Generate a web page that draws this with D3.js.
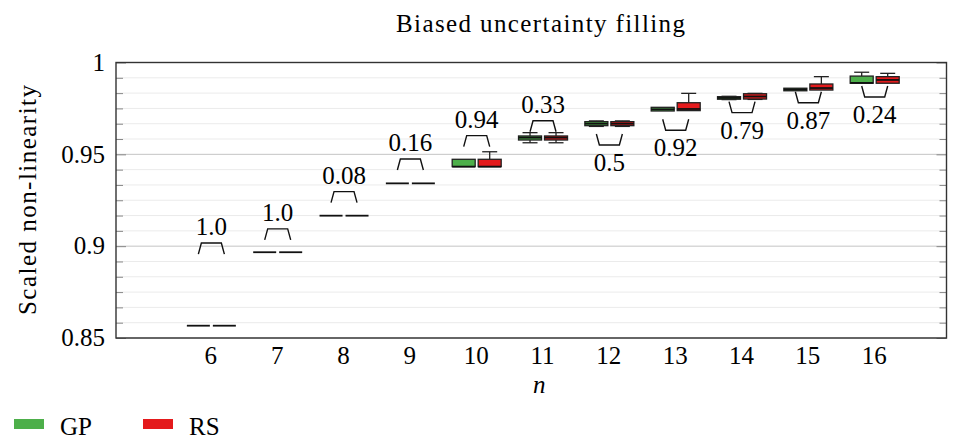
<!DOCTYPE html>
<html>
<head>
<meta charset="utf-8">
<script src="https://cdn.jsdelivr.net/npm/d3@7"></script>
<style>
  body { margin: 0; background: #fff; }
</style>
</head>
<body>
<div id="chart"></div>
<script>
// n values on the x axis
const ns = [6, 7, 8, 9, 10, 11, 12, 13, 14, 15, 16];

// box stats per n: [whisker low, q1, median, q3, whisker high]
const gpStats = [
  [0.8567, 0.8567, 0.8567, 0.8567, 0.8567],
  [0.8967, 0.8967, 0.8967, 0.8967, 0.8967],
  [0.9166, 0.9166, 0.9166, 0.9166, 0.9166],
  [0.9342, 0.9342, 0.9342, 0.9342, 0.9342],
  [0.9433, 0.9433, 0.9433, 0.9473, 0.9473],
  [0.9563, 0.9578, 0.9591, 0.9600, 0.9618],
  [0.9652, 0.9656, 0.9667, 0.9678, 0.9682],
  [0.9736, 0.9736, 0.9745, 0.9756, 0.9756],
  [0.9798, 0.9800, 0.9807, 0.9814, 0.9816],
  [0.9846, 0.9846, 0.9853, 0.9860, 0.9860],
  [0.9887, 0.9887, 0.9889, 0.9926, 0.9947],
];
const rsStats = [
  [0.8567, 0.8567, 0.8567, 0.8567, 0.8567],
  [0.8967, 0.8967, 0.8967, 0.8967, 0.8967],
  [0.9166, 0.9166, 0.9166, 0.9166, 0.9166],
  [0.9342, 0.9342, 0.9342, 0.9342, 0.9342],
  [0.9433, 0.9433, 0.9433, 0.9473, 0.9514],
  [0.9563, 0.9578, 0.9591, 0.9600, 0.9618],
  [0.9652, 0.9656, 0.9667, 0.9678, 0.9682],
  [0.9738, 0.9738, 0.9747, 0.9781, 0.9832],
  [0.9799, 0.9801, 0.9815, 0.9830, 0.9832],
  [0.9850, 0.9850, 0.9861, 0.9883, 0.9923],
  [0.9887, 0.9887, 0.9905, 0.9923, 0.9941],
];

// p-value annotations: label, value where the bracket legs end, side
const pLabels = ['1.0', '1.0', '0.08', '0.16', '0.94', '0.33', '0.5', '0.92', '0.79', '0.87', '0.24'];
const bracketAt = [0.8957, 0.9034, 0.9237, 0.9415, 0.9542, 0.9623, 0.9611, 0.9691, 0.9787, 0.9841, 0.9872];
const bracketSide = ['above', 'above', 'above', 'above', 'above', 'above', 'below', 'below', 'below', 'below', 'below'];

const yMajor = [0.85, 0.9, 0.95, 1];
const series = [
  { name: 'GP', color: '#4daf4a', stats: gpStats },
  { name: 'RS', color: '#e41a1c', stats: rsStats },
];

const width = 962;
const height = 441;
const margin = { top: 62.5, right: 15.5, bottom: 103, left: 116 };
const serif = "'Liberation Serif', 'Times New Roman', Times, 'DejaVu Serif', serif";

const svg = d3.select('#chart').append('svg')
  .attr('width', width)
  .attr('height', height)
  .attr('font-family', serif)
  .style('font-family', serif);

const x = d3.scaleLinear()
  .domain([4.57, 17.09])
  .range([margin.left, width - margin.right]);

const y = d3.scaleLinear()
  .domain([0.85, 1])
  .range([height - margin.bottom, margin.top]);

// grid: 5 minor lines between majors
const minor = [];
for (let i = 0; i < yMajor.length - 1; i += 1) {
  for (let k = 1; k <= 5; k += 1) minor.push(yMajor[i] + k * 0.05 / 6);
}

svg.append('g')
  .selectAll('line')
  .data(minor)
  .join('line')
  .attr('x1', x.range()[0])
  .attr('x2', x.range()[1])
  .attr('y1', d => y(d))
  .attr('y2', d => y(d))
  .attr('stroke', '#ebebeb')
  .attr('stroke-width', 1);

svg.append('g')
  .selectAll('line')
  .data(yMajor)
  .join('line')
  .attr('x1', x.range()[0])
  .attr('x2', x.range()[1])
  .attr('y1', d => y(d))
  .attr('y2', d => y(d))
  .attr('stroke', '#c4c4c4')
  .attr('stroke-width', 1);

// y axis, ticks inside on both sides
[d3.axisRight(y).tickValues(yMajor).tickSize(10).tickFormat(''),
  d3.axisRight(y).tickValues(minor).tickSize(7).tickFormat('')].forEach((ax) => {
  svg.append('g')
    .attr('transform', `translate(${x.range()[0]},0)`)
    .call(ax)
    .call(g => g.select('.domain').remove())
    .call(g => g.selectAll('line').attr('stroke', '#888'));
});
[d3.axisLeft(y).tickValues(yMajor).tickSize(10).tickFormat(''),
  d3.axisLeft(y).tickValues(minor).tickSize(7).tickFormat('')].forEach((ax) => {
  svg.append('g')
    .attr('transform', `translate(${x.range()[1]},0)`)
    .call(ax)
    .call(g => g.select('.domain').remove())
    .call(g => g.selectAll('line').attr('stroke', '#888'));
});

// y tick labels
svg.append('g')
  .selectAll('text')
  .data(yMajor)
  .join('text')
  .attr('x', x.range()[0] - 11)
  .attr('y', d => y(d))
  .attr('dy', '0.33em')
  .attr('text-anchor', 'end')
  .attr('font-size', 25)
  .text(d => d3.format('')(d));

// x tick labels
svg.append('g')
  .selectAll('text')
  .data(ns)
  .join('text')
  .attr('x', d => x(d))
  .attr('y', 364)
  .attr('text-anchor', 'middle')
  .attr('font-size', 25)
  .text(d => d);

// frame
svg.append('rect')
  .attr('x', x.range()[0])
  .attr('y', y.range()[1])
  .attr('width', x.range()[1] - x.range()[0])
  .attr('height', y.range()[0] - y.range()[1])
  .attr('fill', 'none')
  .attr('stroke', '#333')
  .attr('stroke-width', 1.4);

// ****************** boxes ******************
const boxW = 23;
const offsets = [-24, 2]; // left edge of each box relative to the tick
const capW = 15;

series.forEach((s, si) => {
  const g = svg.append('g').attr('class', `box-${s.name}`);
  s.stats.forEach((st, i) => {
    const [lo, q1, med, q3, hi] = st;
    const x0 = x(ns[i]) + offsets[si];
    const cx = x0 + boxW / 2;
    // whiskers
    if (hi > q3) {
      g.append('line').attr('x1', cx).attr('x2', cx).attr('y1', y(q3)).attr('y2', y(hi))
        .attr('stroke', '#222').attr('stroke-width', 1.3);
      g.append('line').attr('x1', cx - capW / 2).attr('x2', cx + capW / 2).attr('y1', y(hi)).attr('y2', y(hi))
        .attr('stroke', '#222').attr('stroke-width', 1.3);
    }
    if (lo < q1) {
      g.append('line').attr('x1', cx).attr('x2', cx).attr('y1', y(q1)).attr('y2', y(lo))
        .attr('stroke', '#222').attr('stroke-width', 1.3);
      g.append('line').attr('x1', cx - capW / 2).attr('x2', cx + capW / 2).attr('y1', y(lo)).attr('y2', y(lo))
        .attr('stroke', '#222').attr('stroke-width', 1.3);
    }
    if (q3 > q1) {
      g.append('rect')
        .attr('x', x0)
        .attr('y', y(q3))
        .attr('width', boxW)
        .attr('height', y(q1) - y(q3))
        .attr('fill', s.color)
        .attr('stroke', '#222')
        .attr('stroke-width', 1.3);
    }
    g.append('line')
      .attr('x1', x0).attr('x2', x0 + boxW)
      .attr('y1', y(med)).attr('y2', y(med))
      .attr('stroke', '#111')
      .attr('stroke-width', 1.8);
  });
});

// ****************** p-value brackets ******************
const bracketH = 11;
const slant = 3;
ns.forEach((n, i) => {
  const cL = x(n) + offsets[0] + boxW / 2;
  const cR = x(n) + offsets[1] + boxW / 2;
  const yEnd = y(bracketAt[i]);
  const dir = bracketSide[i] === 'above' ? -1 : 1;
  const yFar = yEnd + dir * bracketH;
  const path = d3.path();
  path.moveTo(cL, yEnd);
  path.lineTo(cL + slant, yFar);
  path.lineTo(cR - slant, yFar);
  path.lineTo(cR, yEnd);
  svg.append('path')
    .attr('d', path.toString())
    .attr('fill', 'none')
    .attr('stroke', '#111')
    .attr('stroke-width', 1.4);
  svg.append('text')
    .attr('x', (cL + cR) / 2)
    .attr('y', dir < 0 ? yFar - 8 : yFar + 26)
    .attr('text-anchor', 'middle')
    .attr('font-size', 25)
    .text(pLabels[i]);
});

// titles (Times is narrower than the original face, so stretch to match)
svg.append('text')
  .attr('x', 396)
  .attr('y', 32)
  .attr('font-size', 25)
  .attr('textLength', 289)
  .attr('lengthAdjust', 'spacing')
  .text('Biased uncertainty filling');

svg.append('text')
  .attr('transform', `translate(36,315) rotate(-90)`)
  .attr('font-size', 25)
  .attr('textLength', 230)
  .attr('lengthAdjust', 'spacing')
  .text('Scaled non-linearity');

svg.append('text')
  .attr('x', (x.range()[0] + x.range()[1]) / 2 + 8)
  .attr('y', 393)
  .attr('text-anchor', 'middle')
  .attr('font-size', 25)
  .attr('font-style', 'italic')
  .text('n');

// legend
const legend = svg.append('g').attr('transform', 'translate(14,419)');
series.forEach((s, i) => {
  const lg = legend.append('g').attr('transform', `translate(${i * 129},0)`);
  lg.append('rect').attr('width', 30).attr('height', 10).attr('fill', s.color);
  lg.append('text').attr('x', 46).attr('y', 16).attr('font-size', 25).text(s.name);
});
</script>
</body>
</html>
